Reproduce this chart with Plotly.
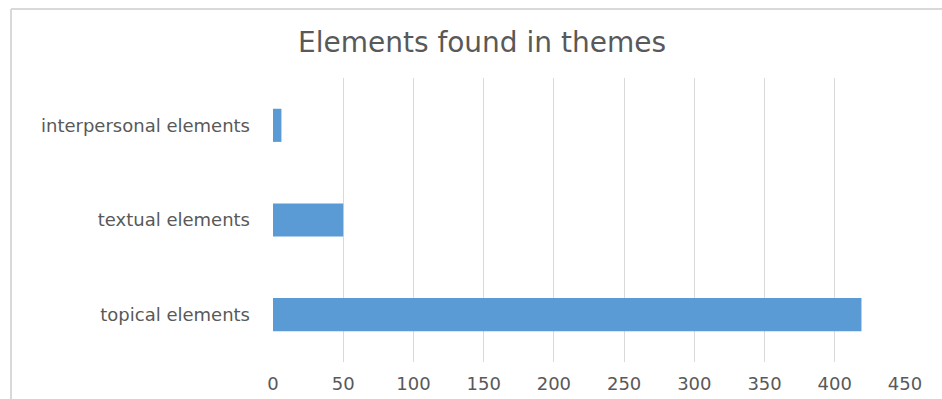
import plotly.graph_objects as go

categories = ["topical elements", "textual elements", "interpersonal elements"]
values = [419, 50, 6]
x_ticks = [0, 50, 100, 150, 200, 250, 300, 350, 400, 450]

W, H = 942, 399
L, R, T, B = 273, 37, 78, 37
pw, ph = W - L - R, H - T - B

def px_to_paper_x(px):
    return (px - L) / pw

def px_to_paper_y(py):
    return 1 - (py - T) / ph

FONT = "DejaVu Sans"

fig = go.Figure(go.Bar(
    x=values, y=categories, orientation="h",
    marker=dict(color="#5B9BD5", line=dict(width=0)),
))

fig.update_layout(
    width=W, height=H,
    margin=dict(l=L, r=R, t=T, b=B, autoexpand=False),
    paper_bgcolor="white", plot_bgcolor="white",
    bargap=0.65,
    showlegend=False,
    title=dict(text="Elements found in themes", x=px_to_paper_x(482), xref="paper",
               xanchor="center", y=1 - 42 / H, yanchor="middle",
               font=dict(family=FONT, size=28, color="#595959")),
    font=dict(family=FONT, color="#595959"),
    xaxis=dict(range=[0, 450], tickvals=x_ticks, showgrid=True, gridcolor="#d9d9d9",
               gridwidth=1, zeroline=False, showline=False, ticks="",
               ticklabelstandoff=9, automargin=False,
               tickfont=dict(size=18, color="#595959"), fixedrange=True),
    yaxis=dict(showgrid=False, zeroline=False, showline=False, ticks="",
               ticklabelstandoff=22, automargin=False,
               tickfont=dict(size=18, color="#595959"), fixedrange=True),
    shapes=[
        dict(type="line", xref="paper", yref="paper",
             x0=px_to_paper_x(11), x1=px_to_paper_x(945),
             y0=px_to_paper_y(9), y1=px_to_paper_y(9),
             line=dict(color="#d9d9d9", width=2)),
        dict(type="line", xref="paper", yref="paper",
             x0=px_to_paper_x(11), x1=px_to_paper_x(11),
             y0=px_to_paper_y(9), y1=px_to_paper_y(405),
             line=dict(color="#d9d9d9", width=2)),
    ],
)

fig.write_html("out.html")
